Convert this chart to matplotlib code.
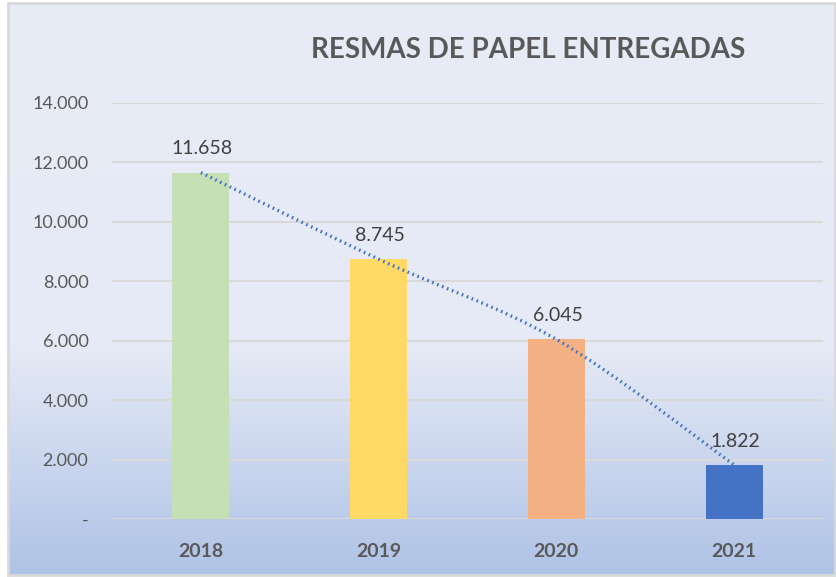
import matplotlib.pyplot as plt
import numpy as np
from matplotlib.path import Path
from matplotlib.patches import PathPatch, Rectangle
from matplotlib.colors import LinearSegmentedColormap
from matplotlib.ticker import FuncFormatter

years = ['2018', '2019', '2020', '2021']
resmas = [11658, 8745, 6045, 1822]
bar_colors = ['#C5E0B4', '#FFD966', '#F4B183', '#4472C4']
yticks = [0, 2000, 4000, 6000, 8000, 10000, 12000, 14000]

plt.rcParams['font.family'] = ['Lato', 'DejaVu Sans']

W, H = 837, 577
fig = plt.figure(figsize=(W / 100, H / 100), dpi=100)
fig.patch.set_facecolor('white')

# fondo degradado (claro arriba, azul abajo)
bg = fig.add_axes([8 / W, 2 / H, 828 / W, 572 / H])
cmap = LinearSegmentedColormap.from_list(
    'fondo', [(0, '#E8ECF7'), (0.6, '#E6EAF6'), (1, '#AFC3E6')])
grad = np.linspace(0, 1, 256).reshape(-1, 1)
bg.imshow(grad, aspect='auto', cmap=cmap, extent=[0, 1, 0, 1], origin='upper')
bg.set_axis_off()
fig.patches.append(Rectangle((8 / W, 2 / H), 827 / W, 572 / H, transform=fig.transFigure,
                             fill=False, edgecolor='#D9D9D9', linewidth=2))

# area del grafico
ax = fig.add_axes([112 / W, (H - 519) / H, (823 - 112) / W, (519 - 103) / H])
ax.patch.set_alpha(0)
x = np.arange(len(years))
ax.bar(x, resmas, width=0.32, color=bar_colors, zorder=2)
ax.set_xlim(-0.5, len(years) - 0.5)
ax.set_ylim(0, 14000)
ax.set_yticks(yticks)
ax.yaxis.set_major_formatter(FuncFormatter(lambda v, p: '-' if v == 0 else f'{int(v):,}'.replace(',', '.')))
ax.grid(axis='y', color='#D9D9D9', linewidth=1.5, zorder=0)
ax.set_axisbelow(True)
for s in ax.spines.values():
    s.set_visible(False)
ax.tick_params(axis='both', length=0)
ax.tick_params(axis='y', labelsize=13, labelcolor='#595959', pad=17)
ax.set_xticks(x)
ax.set_xticklabels(years, fontsize=14, fontweight='bold', color='#595959')
ax.tick_params(axis='x', pad=17)

# etiquetas de datos
for xi, v in zip(x, resmas):
    ax.annotate(f'{v:,}'.replace(',', '.'), (xi, v), xytext=(1, 11), textcoords='offset points',
                ha='center', va='bottom', fontsize=14, color='#404040')

# linea suavizada (tipo Excel) con curvas Bezier
pts = np.column_stack([x, resmas]).astype(float)
verts = [tuple(pts[0])]
codes = [Path.MOVETO]
for i in range(len(pts) - 1):
    p0 = pts[max(i - 1, 0)]
    p1 = pts[i]
    p2 = pts[i + 1]
    p3 = pts[min(i + 2, len(pts) - 1)]
    c1 = p1 + (p2 - p0) / 6
    c2 = p2 - (p3 - p1) / 6
    verts += [tuple(c1), tuple(c2), tuple(p2)]
    codes += [Path.CURVE4] * 3
ax.add_patch(PathPatch(Path(verts, codes), fill=False, edgecolor='#4472C4',
                       linewidth=2.4, linestyle=(0, (0.5, 1.1)), zorder=3))

fig.text(528 / W, (H - 50) / H, 'RESMAS DE PAPEL ENTREGADAS', ha='center', va='center',
         fontsize=20, fontweight='bold', color='#595959')

fig.savefig('out.png', dpi=100)
